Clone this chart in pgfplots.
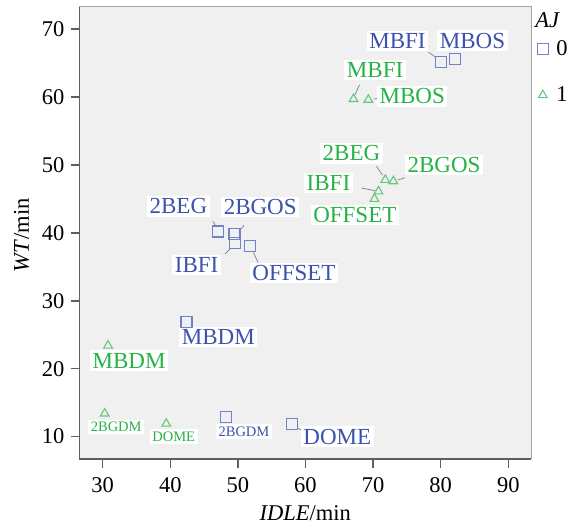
\documentclass[border=0pt]{standalone}
\usepackage{pgfplots}
\pgfplotsset{compat=1.18}
\usepackage{fontspec}
\setmainfont{Liberation Serif}
\definecolor{bluetxt}{RGB}{60,82,172}
\definecolor{greentxt}{RGB}{38,178,70}
\definecolor{bluemk}{RGB}{112,130,204}
\definecolor{greenmk}{RGB}{100,200,120}
\definecolor{panel}{RGB}{240,240,240}
\definecolor{axdark}{RGB}{95,95,95}
\definecolor{axlight}{RGB}{165,165,165}
\begin{document}
\begin{tikzpicture}
\begin{axis}[
 width=451.7pt, height=453pt, scale only axis,
 xmin=26.54, xmax=93.36, ymin=6.7, ymax=73.4,
 axis background/.style={fill=panel},
 xtick={30,40,...,90}, ytick={10,20,...,70},
 axis lines=left,
 axis line style={-, axdark, line width=1.5pt},
 tick align=outside, tick pos=left,
 major tick length=8.5pt,
 every tick/.style={axdark, line width=1.5pt},
 ticklabel style={font=\fontsize{22.5}{22.5}\selectfont, text=black},
 xticklabel style={yshift=-6pt},
 yticklabel style={xshift=-3pt},
 /pgf/number format/assume math mode=true,
 xlabel={\textit{IDLE}/min}, ylabel={\textit{WT}/min},
 label style={font=\fontsize{22.5}{22.5}\selectfont},
 xlabel style={at={(axis description cs:0.5,-0.119)}, anchor=center},
 ylabel style={at={(axis description cs:-0.128,0.494)}, anchor=center},
 legend style={at={(axis description cs:1.007,0.933)}, anchor=north west, draw=none, fill=none,
   font=\fontsize{22.5}{22.5}\selectfont, row sep=26pt,
   /tikz/every odd column/.append style={column sep=6pt}},
 legend cell align=left,
 clip=false,
]
\coordinate (SW) at (rel axis cs:0,0);
\draw[axlight, line width=1pt] (rel axis cs:0,1) -- (rel axis cs:1,1) -- (rel axis cs:1,0);
\addplot[only marks, mark=square, mark size=5.5pt, draw=bluemk, line width=1.1pt]
 coordinates {(80.0,65.1) (82.1,65.6) (47.1,40.2) (49.5,39.85) (49.6,38.5) (51.8,38.0) (42.4,26.9) (48.2,12.9) (58.0,11.9)};
\addlegendentry{0}
\addplot[only marks, mark=triangle, mark size=5pt, draw=greenmk, line width=1.1pt]
 coordinates {(67.1,59.7) (69.3,59.6) (71.8,47.8) (73.0,47.6) (70.8,46.1) (70.2,45.0) (30.8,23.4) (30.3,13.4) (39.4,11.9)};
\addlegendentry{1}
% leader lines
\tikzset{ld/.style={gray, line width=0.7pt}}
\draw[ld] (axis cs:78.2,66.6) -- (axis cs:79.2,65.9);
\draw[ld] (axis cs:46.3,41.7) -- (axis cs:46.8,40.9);
\draw[ld] (axis cs:50.9,41.1) -- (axis cs:50.5,40.6);
\draw[ld] (axis cs:48.1,36.9) -- (axis cs:48.8,37.6);
\draw[ld] (axis cs:52.3,37.1) -- (axis cs:53.0,35.6);
\draw[ld] (axis cs:58.9,11.2) -- (axis cs:59.4,11.0);
\draw[ld] (axis cs:68.0,61.8) -- (axis cs:67.3,60.3);
\draw[ld] (axis cs:70.8,59.8) -- (axis cs:70.1,59.7);
\draw[ld] (axis cs:70.5,49.8) -- (axis cs:71.4,48.5);
\draw[ld] (axis cs:74.7,48.1) -- (axis cs:73.7,47.8);
\draw[ld] (axis cs:68.3,46.6) -- (axis cs:70.3,46.2);
% labels
\tikzset{lb/.style={fill=white, inner sep=2.5pt, font=\fontsize{23}{23}\selectfont},
         lbs/.style={fill=white, inner sep=2.5pt, font=\fontsize{14.5}{14.5}\selectfont}}
\node[lb, text=bluetxt] at (axis cs:73.6,68.3) {MBFI};
\node[lb, text=bluetxt] at (axis cs:84.7,68.3) {MBOS};
\node[lb, text=bluetxt] at (axis cs:41.2,43.9) {2BEG};
\node[lb, text=bluetxt] at (axis cs:53.3,43.8) {2BGOS};
\node[lb, text=bluetxt] at (axis cs:43.9,35.3) {IBFI};
\node[lb, text=bluetxt] at (axis cs:58.3,34.1) {OFFSET};
\node[lb, text=bluetxt] at (axis cs:47.1,24.7) {MBDM};
\node[lbs, text=bluetxt] at (axis cs:50.9,10.7) {2BGDM};
\node[lb, text=bluetxt] at (axis cs:64.7,10.0) {DOME};
\node[lb, text=greentxt] at (axis cs:70.3,64.0) {MBFI};
\node[lb, text=greentxt] at (axis cs:75.8,60.1) {MBOS};
\node[lb, text=greentxt] at (axis cs:66.8,51.7) {2BEG};
\node[lb, text=greentxt] at (axis cs:80.5,50.0) {2BGOS};
\node[lb, text=greentxt] at (axis cs:63.4,47.3) {IBFI};
\node[lb, text=greentxt] at (axis cs:67.3,42.6) {OFFSET};
\node[lb, text=greentxt] at (axis cs:33.9,21.2) {MBDM};
\node[lbs, text=greentxt] at (axis cs:32.0,11.4) {2BGDM};
\node[lbs, text=greentxt] at (axis cs:40.5,10.0) {DOME};
\node[anchor=west, font=\fontsize{22.5}{22.5}\selectfont, inner sep=0pt] at (axis description cs:1.009,0.969) {\textit{AJ}};
\end{axis}
\pgfresetboundingbox
\path[use as bounding box] ([shift={(-79.3pt,-69pt)}]SW) rectangle ++(573pt,528pt);
\end{tikzpicture}
\end{document}
